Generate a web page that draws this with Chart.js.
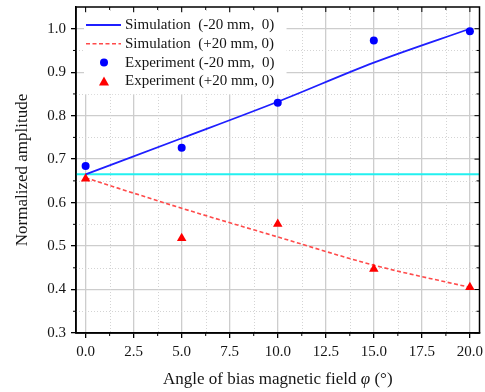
<!DOCTYPE html>
<html>
<head>
<meta charset="utf-8">
<script src="https://cdn.jsdelivr.net/npm/chart.js@4"></script>
<style>
  html, body { margin: 0; padding: 0; background: #fff; }
  #wrap { width: 485px; height: 392px; }
</style>
</head>
<body>
<div id="wrap"><canvas id="chart"></canvas></div>
<script>
// data
const angles = [0, 5, 10, 15, 20];
const simMinus = [0.665, 0.748, 0.832, 0.922, 1.0];
const simPlus = [0.657, 0.587, 0.521, 0.456, 0.405];
const expMinus = [0.684, 0.726, 0.830, 0.973, 0.994];
const expPlus = [0.655, 0.518, 0.551, 0.447, 0.405];
const refLevel = 0.665;

const xRange = [-0.5, 20.5];
const yRange = [0.3, 1.05];
const xTicks = [0, 1.25, 2.5, 3.75, 5, 6.25, 7.5, 8.75, 10, 11.25, 12.5, 13.75, 15, 16.25, 17.5, 18.75, 20];
const yTicks = [0.3, 0.35, 0.4, 0.45, 0.5, 0.55, 0.6, 0.65, 0.7, 0.75, 0.8, 0.85, 0.9, 0.95, 1.0];
const seriesLabels = [
    'Simulation  (-20 mm,  0)',
    'Simulation  (+20 mm, 0)',
    'Experiment (-20 mm,  0)',
    'Experiment (+20 mm, 0)'
];

const FONT = "'Liberation Serif', 'Times New Roman', serif";
const TEXT = '#151515';

function isMajor(v, step) {
    return Math.abs(v / step - Math.round(v / step)) < 1e-6;
}
function pts(ys) {
    return angles.map((x, i) => ({ x: x, y: ys[i] }));
}

// dotted minor grid + short minor ticks
const minorGridPlugin = {
    id: 'minorGrid',
    beforeDatasetsDraw(chart) {
        const ctx = chart.ctx;
        const a = chart.chartArea;
        const xs = chart.scales.x, ys = chart.scales.y;
        ctx.save();
        ctx.strokeStyle = '#d4d4d4';
        ctx.lineWidth = 1;
        ctx.setLineDash([1, 2]);
        xTicks.filter(v => !isMajor(v, 2.5)).forEach(v => {
            const px = Math.round(xs.getPixelForValue(v)) + 0.5;
            ctx.beginPath();
            ctx.moveTo(px, a.top);
            ctx.lineTo(px, a.bottom);
            ctx.stroke();
        });
        yTicks.filter(v => !isMajor(v, 0.1)).forEach(v => {
            const py = Math.round(ys.getPixelForValue(v)) + 0.5;
            ctx.beginPath();
            ctx.moveTo(a.left, py);
            ctx.lineTo(a.right, py);
            ctx.stroke();
        });
        ctx.setLineDash([]);
        ctx.strokeStyle = '#000';
        xTicks.filter(v => !isMajor(v, 2.5)).forEach(v => {
            const px = xs.getPixelForValue(v);
            ctx.beginPath();
            ctx.moveTo(px, a.bottom);
            ctx.lineTo(px, a.bottom + 3);
            ctx.stroke();
        });
        yTicks.filter(v => !isMajor(v, 0.1)).forEach(v => {
            const py = ys.getPixelForValue(v);
            ctx.beginPath();
            ctx.moveTo(a.left, py);
            ctx.lineTo(a.left - 3, py);
            ctx.stroke();
        });
        ctx.restore();
    }
};

// frame, mirrored ticks, legend box and x title
const decorPlugin = {
    id: 'decor',
    afterDatasetsDraw(chart) {
        const ctx = chart.ctx;
        const a = chart.chartArea;
        const xs = chart.scales.x, ys = chart.scales.y;
        ctx.save();
        // legend
        ctx.font = '15px ' + FONT;
        let maxW = 0;
        seriesLabels.forEach(t => { maxW = Math.max(maxW, ctx.measureText(t).width); });
        const lx = a.left + 8, ly = a.top + 7;
        const rowH = 18.8;
        ctx.fillStyle = '#fff';
        ctx.fillRect(lx, ly - 1, 49 + maxW + 4, rowH * 4 + 6);
        chart.data.datasets.slice(0, 4).forEach((ds, i) => {
            const cy = ly + 11 + i * rowH;
            if (ds.showLine) {
                ctx.strokeStyle = ds.borderColor;
                ctx.lineWidth = ds.borderWidth;
                ctx.setLineDash(ds.borderDash || []);
                ctx.beginPath();
                ctx.moveTo(lx + 2, cy);
                ctx.lineTo(lx + 37, cy);
                ctx.stroke();
                ctx.setLineDash([]);
            } else {
                ctx.fillStyle = ds.backgroundColor;
                ctx.beginPath();
                const mx = lx + 20;
                if (ds.pointStyle === 'triangle') {
                    ctx.moveTo(mx, cy - 5);
                    ctx.lineTo(mx + 5, cy + 4);
                    ctx.lineTo(mx - 5, cy + 4);
                    ctx.closePath();
                } else {
                    ctx.arc(mx, cy, 4, 0, Math.PI * 2);
                }
                ctx.fill();
            }
            ctx.fillStyle = TEXT;
            ctx.textBaseline = 'middle';
            ctx.textAlign = 'left';
            ctx.fillText(seriesLabels[i], lx + 41, cy);
        });

        // frame
        ctx.strokeStyle = '#000';
        ctx.lineWidth = 1.5;
        ctx.strokeRect(a.left, a.top, a.right - a.left, a.bottom - a.top);
        // inward ticks on top and right
        ctx.lineWidth = 1;
        xTicks.forEach(v => {
            const px = xs.getPixelForValue(v);
            const len = isMajor(v, 2.5) ? 5 : 3;
            ctx.beginPath();
            ctx.moveTo(px, a.top);
            ctx.lineTo(px, a.top + len);
            ctx.stroke();
        });
        yTicks.forEach(v => {
            const py = ys.getPixelForValue(v);
            const len = isMajor(v, 0.1) ? 5 : 3;
            ctx.beginPath();
            ctx.moveTo(a.right, py);
            ctx.lineTo(a.right - len, py);
            ctx.stroke();
        });

        // x title with italic phi
        const parts = [
            { t: 'Angle of bias magnetic field ', f: '17px ' + FONT },
            { t: '\u03C6', f: 'italic 17px ' + FONT },
            { t: ' (\u00B0)', f: '17px ' + FONT }
        ];
        let total = 0;
        parts.forEach(p => { ctx.font = p.f; p.w = ctx.measureText(p.t).width; total += p.w; });
        let tx = (a.left + a.right) / 2 - total / 2;
        ctx.fillStyle = TEXT;
        ctx.textBaseline = 'alphabetic';
        ctx.textAlign = 'left';
        parts.forEach(p => {
            ctx.font = p.f;
            ctx.fillText(p.t, tx, 384);
            tx += p.w;
        });
        ctx.restore();
    }
};

const ctx = document.getElementById('chart').getContext('2d');
new Chart(ctx, {
    type: 'scatter',
    data: {
        datasets: [
            {
                label: seriesLabels[0],
                data: pts(simMinus),
                showLine: true,
                borderColor: '#1f1fff',
                backgroundColor: '#1f1fff',
                borderWidth: 1.8,
                pointRadius: 0,
                cubicInterpolationMode: 'monotone',
                order: 2
            },
            {
                label: seriesLabels[1],
                data: pts(simPlus),
                showLine: true,
                borderColor: '#ff4a4a',
                backgroundColor: '#ff4a4a',
                borderWidth: 1.6,
                borderDash: [4, 2.5],
                pointRadius: 0,
                cubicInterpolationMode: 'monotone',
                order: 2
            },
            {
                label: seriesLabels[2],
                data: pts(expMinus),
                showLine: false,
                pointStyle: 'circle',
                pointRadius: 4,
                borderWidth: 0,
                backgroundColor: '#0000ff',
                borderColor: '#0000ff',
                order: 0
            },
            {
                label: seriesLabels[3],
                data: pts(expPlus),
                showLine: false,
                pointStyle: 'triangle',
                pointRadius: 5.5,
                borderWidth: 0,
                backgroundColor: '#ff0000',
                borderColor: '#ff0000',
                order: 0
            },
            {
                label: 'level',
                data: xRange.map(x => ({ x: x, y: refLevel })),
                showLine: true,
                borderColor: '#22f0f0',
                borderWidth: 2,
                pointRadius: 0,
                order: 3
            }
        ]
    },
    options: {
        responsive: true,
        maintainAspectRatio: false,
        animation: false,
        layout: { padding: { top: 7, right: 5, left: 0, bottom: 0 } },
        plugins: {
            legend: { display: false },
            tooltip: { enabled: false }
        },
        scales: {
            x: {
                type: 'linear',
                min: xRange[0],
                max: xRange[1],
                afterBuildTicks: scale => { scale.ticks = xTicks.map(v => ({ value: v })); },
                afterFit: scale => {
                    scale.height = 59;
                    scale.paddingLeft = 0;
                    scale.paddingRight = 0;
                },
                ticks: {
                    autoSkip: false,
                    maxRotation: 0,
                    padding: 5,
                    color: TEXT,
                    font: { family: FONT, size: 15 },
                    callback: v => isMajor(v, 2.5) ? v.toFixed(1) : ''
                },
                grid: {
                    color: c => isMajor(c.tick.value, 2.5) ? '#cdcdcd' : 'rgba(0,0,0,0)',
                    lineWidth: 1.3,
                    tickColor: c => isMajor(c.tick.value, 2.5) ? '#000' : 'rgba(0,0,0,0)',
                    tickLength: 5
                },
                border: { color: '#000', width: 1.5 }
            },
            y: {
                type: 'linear',
                min: yRange[0],
                max: yRange[1],
                afterBuildTicks: scale => { scale.ticks = yTicks.map(v => ({ value: v })); },
                afterFit: scale => {
                    scale.width = 76;
                    scale.paddingTop = 0;
                    scale.paddingBottom = 0;
                },
                ticks: {
                    autoSkip: false,
                    padding: 5,
                    color: TEXT,
                    font: { family: FONT, size: 15 },
                    callback: v => isMajor(v, 0.1) ? v.toFixed(1) : ''
                },
                grid: {
                    color: c => isMajor(c.tick.value, 0.1) ? '#cdcdcd' : 'rgba(0,0,0,0)',
                    lineWidth: 1.3,
                    tickColor: c => isMajor(c.tick.value, 0.1) ? '#000' : 'rgba(0,0,0,0)',
                    tickLength: 5
                },
                border: { color: '#000', width: 1.5 },
                title: {
                    display: true,
                    text: 'Normalized amplitude',
                    color: TEXT,
                    font: { family: FONT, size: 17 },
                    padding: { top: 12, bottom: 0 }
                }
            }
        }
    },
    plugins: [minorGridPlugin, decorPlugin]
});
</script>
</body>
</html>
